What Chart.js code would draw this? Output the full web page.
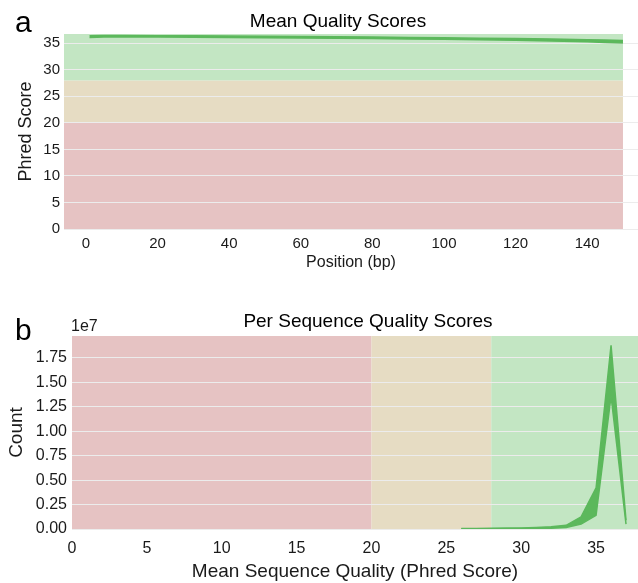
<!DOCTYPE html>
<html>
<head>
<meta charset="utf-8">
<script src="https://cdn.jsdelivr.net/npm/chart.js@4.4.1/dist/chart.umd.min.js"></script>
<style>
  body { margin: 0; background: #fff; }
  canvas { display: block; }
</style>
</head>
<body>
<canvas id="meanQual" width="638" height="290"></canvas>
<canvas id="seqQual" width="638" height="293"></canvas>
<script>
// quality zones (Phred): red below 20, orange 20-28, green above 28
const zoneStarts = [0, 20, 28];
const zoneColors = ["#e6c3c3", "#e6dcc3", "#c3e6c3"];

// panel a: mean quality per position
const positions = [1, 5, 10, 20, 30, 40, 50, 60, 70, 80, 90, 100, 110, 120, 130, 140, 145, 150];
const meanQualUpper = [36.40, 36.45, 36.45, 36.42, 36.40, 36.36, 36.32, 36.27, 36.22, 36.17, 36.11, 36.05, 35.97, 35.90, 35.80, 35.67, 35.60, 35.52];
const meanQualLower = [36.10, 36.18, 36.20, 36.18, 36.15, 36.10, 36.06, 36.01, 35.96, 35.90, 35.82, 35.75, 35.66, 35.56, 35.43, 35.27, 35.17, 35.07];
const positionTicks = [0, 20, 40, 60, 80, 100, 120, 140];
const phredTicks = [0, 5, 10, 15, 20, 25, 30, 35];

// panel b: per sequence mean quality counts
const seqScores = [26, 27, 28, 29, 30, 31, 32, 33, 34, 35, 36, 37];
const countUpper = [5e4, 6e4, 7.5e4, 9e4, 1.1e5, 1.5e5, 2.2e5, 3.8e5, 1.25e6, 4.2e6, 1.88e7, 9e5];
const countLower = [2e4, 2.5e4, 3e4, 3.5e4, 4.5e4, 6e4, 8e4, 1.5e5, 5e5, 1.4e6, 1.36e7, 5e5];
const scoreTicks = [0, 5, 10, 15, 20, 25, 30, 35];
const countTicks = [0, 2.5e6, 5e6, 7.5e6, 1e7, 1.25e7, 1.5e7, 1.75e7];

const lineGreen = "#5cb85c";
const gridGrey = "#ececec";
const textColor = "#1a1a1a";
const family = "'Liberation Sans', Arial, sans-serif";

Chart.defaults.font.family = family;
Chart.defaults.color = textColor;

const zonePlugin = {
  id: "zones",
  beforeDraw(chart, args, opts) {
    const { ctx, chartArea: a, scales } = chart;
    ctx.save();
    zoneStarts.forEach((from, i) => {
      const to = i + 1 < zoneStarts.length ? zoneStarts[i + 1] : 1e9;
      ctx.fillStyle = zoneColors[i];
      if (opts.axis === "y") {
        const y = scales.y;
        const top = Math.max(a.top, y.getPixelForValue(to));
        const bot = Math.min(a.bottom, y.getPixelForValue(from));
        const right = scales.x.getPixelForValue(opts.end);
        ctx.fillRect(a.left, top, right - a.left, bot - top);
      } else {
        const x = scales.x;
        const left = Math.max(a.left, x.getPixelForValue(from));
        const right = Math.min(a.right, x.getPixelForValue(to));
        ctx.fillRect(left, a.top, right - left, a.bottom - a.top);
      }
    });
    ctx.restore();
  }
};

const labelPlugin = {
  id: "labels",
  afterDraw(chart, args, opts) {
    const ctx = chart.ctx;
    ctx.save();
    ctx.fillStyle = "#000";
    ctx.textBaseline = "alphabetic";
    ctx.textAlign = "left";
    ctx.font = "30px " + family;
    ctx.fillText(opts.panel, 15, opts.panelY);
    ctx.textAlign = "center";
    ctx.font = "19px " + family;
    ctx.fillText(opts.title, opts.titleX, opts.titleY);
    if (opts.exponent) {
      ctx.textAlign = "left";
      ctx.textBaseline = "middle";
      ctx.font = "16px " + family;
      ctx.fillStyle = textColor;
      ctx.fillText(opts.exponent, 71, 37);
    }
    ctx.restore();
  }
};

function band(xs, upper, lower) {
  return [
    { data: xs.map((x, i) => ({ x, y: upper[i] })), borderColor: lineGreen, borderWidth: 1.5, pointRadius: 0, fill: false },
    { data: xs.map((x, i) => ({ x, y: lower[i] })), borderColor: lineGreen, borderWidth: 1.5, pointRadius: 0, fill: "-1", backgroundColor: lineGreen }
  ];
}

function fixedTicks(values) {
  return s => { s.ticks = values.map(v => ({ value: v })); };
}

new Chart(document.getElementById("meanQual"), {
  type: "line",
  data: { datasets: band(positions, meanQualUpper, meanQualLower) },
  plugins: [zonePlugin, labelPlugin],
  options: {
    responsive: false,
    animation: false,
    devicePixelRatio: 1,
    layout: { padding: { left: 0, top: 34, right: 0, bottom: 18 } },
    plugins: {
      legend: { display: false },
      tooltip: { enabled: false },
      zones: { axis: "y", end: 150 },
      labels: { panel: "a", panelY: 32, title: "Mean Quality Scores", titleX: 338, titleY: 27 }
    },
    scales: {
      x: {
        type: "linear",
        min: -6.14,
        max: 154.2,
        grid: { display: false },
        border: { display: false },
        afterBuildTicks: fixedTicks(positionTicks),
        ticks: { padding: -2, font: { size: 15 }, color: textColor, maxRotation: 0, autoSkip: false },
        title: { display: true, text: "Position (bp)", font: { size: 16 }, padding: { top: 0, bottom: 0 }, color: textColor },
        afterFit(s) { s.height = 43; }
      },
      y: {
        min: 0,
        max: 36.75,
        grid: { color: gridGrey, drawTicks: false },
        border: { display: false },
        afterBuildTicks: fixedTicks(phredTicks),
        ticks: { padding: 4, font: { size: 15 }, color: textColor, autoSkip: false },
        title: { display: true, text: "Phred Score", font: { size: 18 }, padding: { top: 15, bottom: 0 }, color: textColor },
        afterFit(s) { s.width = 64; }
      }
    }
  }
});

new Chart(document.getElementById("seqQual"), {
  type: "line",
  data: { datasets: band(seqScores, countUpper, countLower) },
  plugins: [zonePlugin, labelPlugin],
  options: {
    responsive: false,
    animation: false,
    devicePixelRatio: 1,
    layout: { padding: { left: 0, top: 46, right: 0, bottom: 0 } },
    plugins: {
      legend: { display: false },
      tooltip: { enabled: false },
      zones: { axis: "x" },
      labels: { panel: "b", panelY: 50, title: "Per Sequence Quality Scores", titleX: 368, titleY: 37, exponent: "1e7" }
    },
    scales: {
      x: {
        type: "linear",
        min: 0,
        max: 37.8,
        grid: { display: false },
        border: { display: false },
        afterBuildTicks: fixedTicks(scoreTicks),
        ticks: { padding: 2, font: { size: 16 }, color: textColor, maxRotation: 0, autoSkip: false },
        title: { display: true, text: "Mean Sequence Quality (Phred Score)", font: { size: 19 }, padding: { top: 0, bottom: 0 }, color: textColor },
        afterFit(s) { s.height = 54; }
      },
      y: {
        min: 0,
        max: 1.975e7,
        grid: { color: gridGrey, drawTicks: false },
        border: { display: false },
        afterBuildTicks: fixedTicks(countTicks),
        ticks: { padding: 5, font: { size: 16 }, color: textColor, autoSkip: false,
          callback: v => (v / 1e7).toFixed(2) },
        title: { display: true, text: "Count", font: { size: 19 }, padding: { top: 5, bottom: 0 }, color: textColor },
        afterFit(s) { s.width = 72; }
      }
    }
  }
});
</script>
</body>
</html>
